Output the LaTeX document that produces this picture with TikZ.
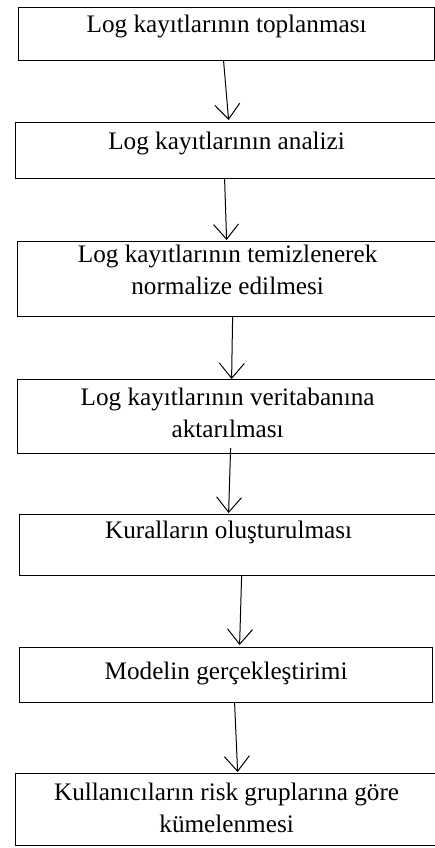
\documentclass[tikz,border=0pt]{standalone}
\usepackage{fontspec}
\setmainfont{Liberation Serif}
\usetikzlibrary{arrows.meta}

\tikzset{
  stage/.style={draw, line width=1.2pt, anchor=north west, inner sep=0pt},
  stagetext/.style={anchor=north, align=center, inner sep=0pt, font=\fontsize{25.2}{31.6}\selectfont},
  flow/.style={line width=1pt, -{Straight Barb[length=15pt, width=25pt]}}
}

\begin{document}
\begin{tikzpicture}[x=1pt, y=-1pt]
\useasboundingbox (0,0) rectangle (435,848);

\node[stage, minimum width=416pt, minimum height=53pt, label={[stagetext, yshift=-8pt]north:Log kayıtlarının toplanması}] (collect) at (18,7) {};
\node[stage, minimum width=422pt, minimum height=56pt, label={[stagetext, yshift=-10pt]north:Log kayıtlarının analizi}] (analyse) at (15,122) {};
\node[stage, minimum width=420pt, minimum height=75pt, label={[stagetext, yshift=-4pt]north:Log kayıtlarının temizlenerek\\normalize edilmesi}] (clean) at (17,241) {};
\node[stage, minimum width=420pt, minimum height=74pt, label={[stagetext, yshift=-9pt]north:Log kayıtlarının veritabanına\\aktarılması}] (store) at (17,379) {};
\node[stage, minimum width=418pt, minimum height=61pt, label={[stagetext, yshift=-7pt]north:Kuralların oluşturulması}] (rules) at (19,514) {};
\node[stage, minimum width=413pt, minimum height=55pt, label={[stagetext, yshift=-15pt]north:Modelin gerçekleştirimi}] (model) at (19,647) {};
\node[stage, minimum width=422pt, minimum height=72pt, label={[stagetext, yshift=-10pt]north:Kullanıcıların risk gruplarına göre\\kümelenmesi}] (cluster) at (15,773) {};

\draw[flow] ([xshift=-3pt]collect.south) -- ([xshift=2pt, yshift=2pt]analyse.north);
\draw[flow] ([xshift=-2pt]analyse.south) -- ([xshift=-1pt, yshift=1pt]clean.north);
\draw[flow] ([xshift=5pt]clean.south) -- ([xshift=4pt]store.north);
\draw[flow] ([xshift=3pt, yshift=6pt]store.south) -- ([yshift=1pt]rules.north);
\draw[flow] ([xshift=13pt]rules.south) -- ([xshift=13.5pt, yshift=2pt]model.north);
\draw[flow] ([xshift=8.5pt]model.south) -- ([xshift=11pt, yshift=1pt]cluster.north);
\end{tikzpicture}
\end{document}
